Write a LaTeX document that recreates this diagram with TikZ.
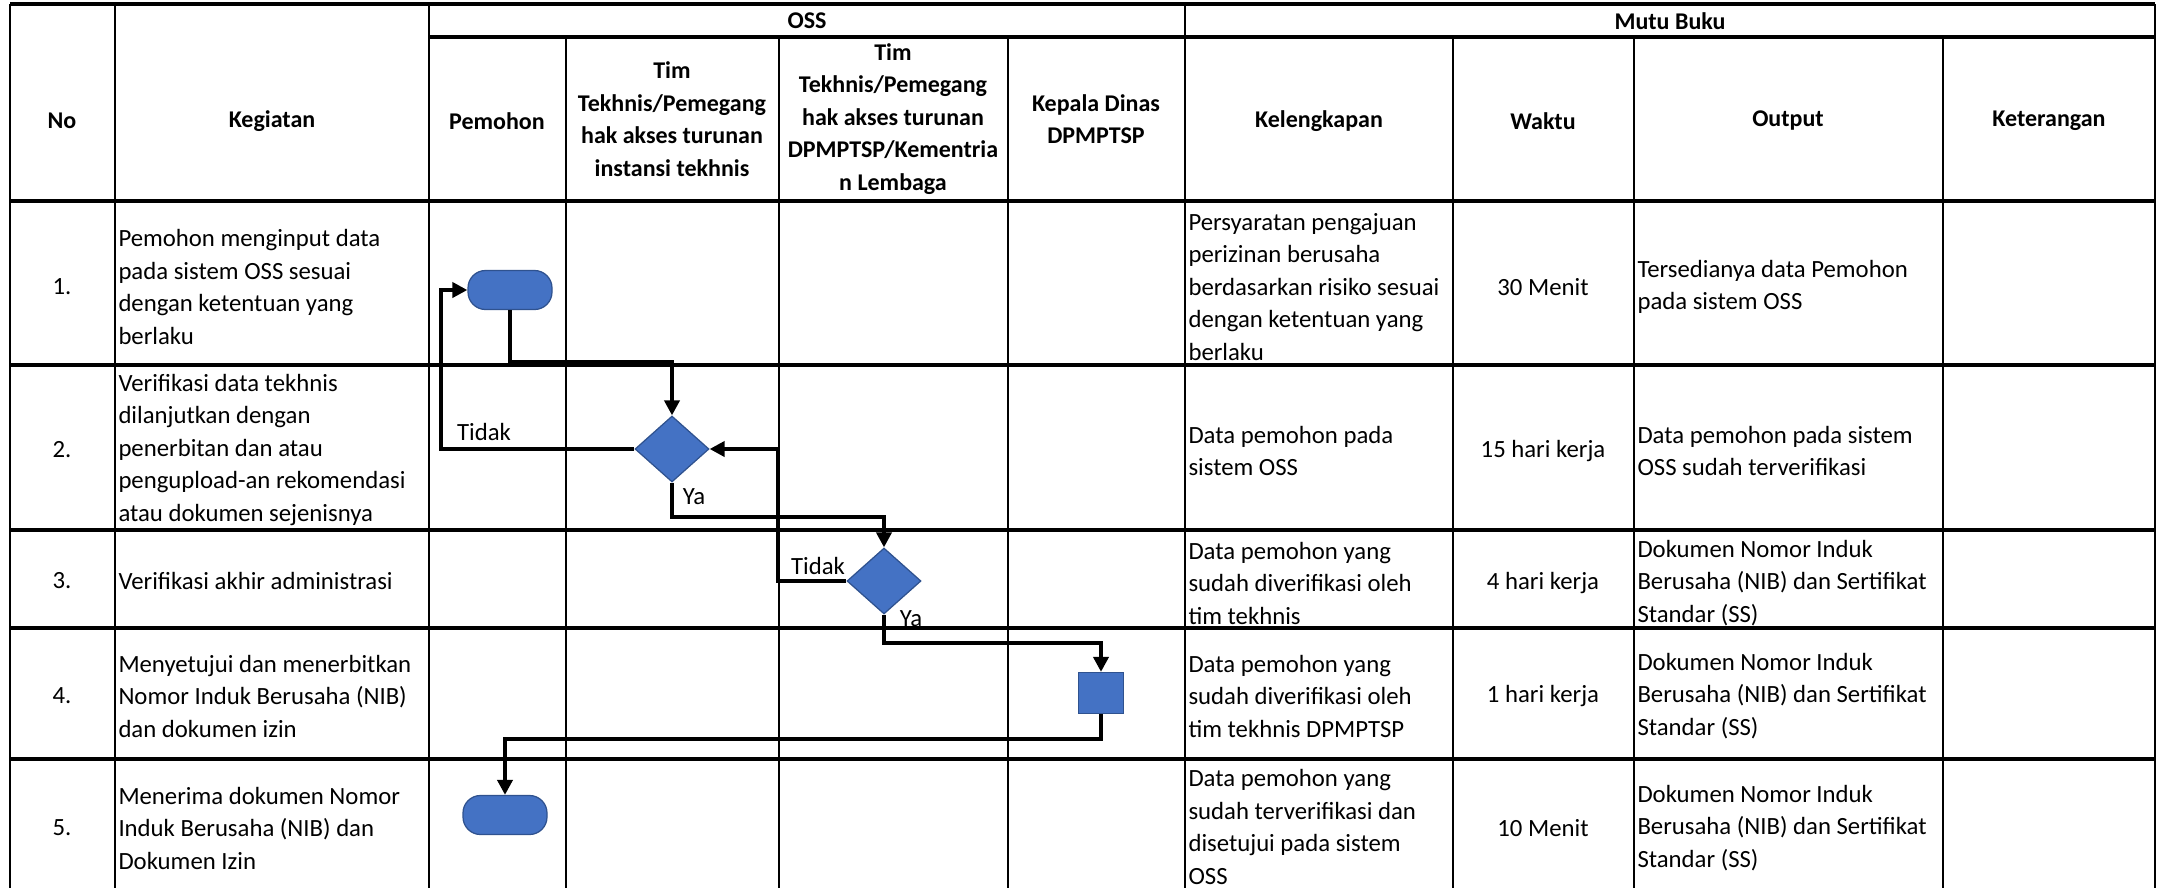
\documentclass[tikz,border=0pt]{standalone}
\usepackage{fontspec}
\setmainfont{Carlito}
\usetikzlibrary{shapes.geometric, arrows.meta}

\definecolor{FlowBlue}{HTML}{4472C4}
\definecolor{FlowEdge}{HTML}{2F528F}

\begin{document}
\begin{tikzpicture}[x=0.4pt, y=-0.4pt,
  every node/.style={font=\fontsize{9.9}{13}\selectfont, inner sep=0pt},
  head/.style={font=\bfseries\fontsize{9.6}{13}\selectfont, align=center},
  cell/.style={align=left, anchor=west},
  mid/.style={align=center},
  hline/.style={line width=1.3pt},
  vline/.style={line width=1.05pt},
  terminal/.style={rectangle, draw=FlowEdge, fill=FlowBlue, line width=0.5pt, rounded corners=7pt, minimum width=33.6pt, minimum height=15.6pt},
  decision/.style={diamond, draw=FlowEdge, fill=FlowBlue, line width=0.5pt, minimum width=29.6pt, minimum height=26.4pt},
  process/.style={rectangle, draw=FlowEdge, fill=FlowBlue, line width=0.5pt, minimum width=18pt, minimum height=16.4pt},
  flow/.style={line width=1.8pt, -{Triangle[length=6pt, width=6pt]}}]

 \useasboundingbox (0,0) rectangle (2161,888);

 %%%%%%%%%% Table lines %%%%%%%%%%
 \draw [hline] (10,4) -- (2155,4) ;
 \draw [hline] (429,37) -- (2155,37) ;
 \draw [hline] (10,201) -- (2155,201) ;
 \draw [hline] (10,365) -- (2155,365) ;
 \draw [hline] (10,530) -- (2155,530) ;
 \draw [hline] (10,628) -- (2155,628) ;
 \draw [hline] (10,759) -- (2155,759) ;

 \draw [vline] (10,4) -- (10,888) ;
 \draw [vline] (115,4) -- (115,888) ;
 \draw [vline] (429,4) -- (429,888) ;
 \draw [vline] (566,37) -- (566,888) ;
 \draw [vline] (779,37) -- (779,888) ;
 \draw [vline] (1008,37) -- (1008,888) ;
 \draw [vline] (1185,4) -- (1185,888) ;
 \draw [vline] (1453,37) -- (1453,888) ;
 \draw [vline] (1634,37) -- (1634,888) ;
 \draw [vline] (1943,37) -- (1943,888) ;
 \draw [vline] (2155,4) -- (2155,888) ;

 %%%%%%%%%% Header %%%%%%%%%%
 \node [head] (oss) at (807,21) {OSS};
 \node [head] (mutu) at (1670,21) {Mutu Buku};
 \node [head] (hno) at (62,121) {No};
 \node [head] (hkeg) at (272,121) {Kegiatan};
 \node [head] (hpem) at (497,121) {Pemohon};
 \node [head] (htim1) at (672,119) {Tim\\Tekhnis/Pemegang\\hak akses turunan\\instansi tekhnis};
 \node [head] (htim2) at (893,119) {Tim\\Tekhnis/Pemegang\\hak akses turunan\\DPMPTSP/Kementria\\n Lembaga};
 \node [head] (hkep) at (1096,119) {Kepala Dinas\\DPMPTSP};
 \node [head] (hkel) at (1319,121) {Kelengkapan};
 \node [head] (hwak) at (1543,121) {Waktu};
 \node [head] (hout) at (1788,121) {Output};
 \node [head] (hket) at (2049,121) {Keterangan};

 %%%%%%%%%% Row 1 %%%%%%%%%%
 \node [mid] (no1) at (62,287) {1.};
 \node [cell] (keg1) at (118,287) {Pemohon menginput data\\pada sistem OSS sesuai\\dengan ketentuan yang\\berlaku};
 \node [cell] (kel1) at (1188,287) {Persyaratan pengajuan\\perizinan berusaha\\berdasarkan risiko sesuai\\dengan ketentuan yang\\berlaku};
 \node [mid] (wak1) at (1543,287) {30 Menit};
 \node [cell] (out1) at (1637,287) {Tersedianya data Pemohon\\pada sistem OSS};

 %%%%%%%%%% Row 2 %%%%%%%%%%
 \node [mid] (no2) at (62,450) {2.};
 \node [cell] (keg2) at (118,450) {Verifikasi data tekhnis\\dilanjutkan dengan\\penerbitan dan atau\\pengupload-an rekomendasi\\atau dokumen sejenisnya};
 \node [cell] (kel2) at (1188,451) {Data pemohon pada\\sistem OSS};
 \node [mid] (wak2) at (1543,451) {15 hari kerja};
 \node [cell] (out2) at (1637,451) {Data pemohon pada sistem\\OSS sudah terverifikasi};

 %%%%%%%%%% Row 3 %%%%%%%%%%
 \node [mid] (no3) at (62,581) {3.};
 \node [cell] (keg3) at (118,581) {Verifikasi akhir administrasi};
 \node [cell] (kel3) at (1188,583) {Data pemohon yang\\sudah diverifikasi oleh\\tim tekhnis};
 \node [mid] (wak3) at (1543,583) {4 hari kerja};
 \node [cell] (out3) at (1637,583) {Dokumen Nomor Induk\\Berusaha (NIB) dan Sertifikat\\Standar (SS)};

 %%%%%%%%%% Row 4 %%%%%%%%%%
 \node [mid] (no4) at (62,696) {4.};
 \node [cell] (keg4) at (118,696) {Menyetujui dan menerbitkan\\Nomor Induk Berusaha (NIB)\\dan dokumen izin};
 \node [cell] (kel4) at (1188,696) {Data pemohon yang\\sudah diverifikasi oleh\\tim tekhnis DPMPTSP};
 \node [mid] (wak4) at (1543,696) {1 hari kerja};
 \node [cell] (out4) at (1637,696) {Dokumen Nomor Induk\\Berusaha (NIB) dan Sertifikat\\Standar (SS)};

 %%%%%%%%%% Row 5 %%%%%%%%%%
 \node [mid] (no5) at (62,828) {5.};
 \node [cell] (keg5) at (118,828) {Menerima dokumen Nomor\\Induk Berusaha (NIB) dan\\Dokumen Izin};
 \node [cell] (kel5) at (1188,827) {Data pemohon yang\\sudah terverifikasi dan\\disetujui pada sistem\\OSS};
 \node [mid] (wak5) at (1543,828) {10 Menit};
 \node [cell] (out5) at (1637,828) {Dokumen Nomor Induk\\Berusaha (NIB) dan Sertifikat\\Standar (SS)};

 %%%%%%%%%% Flow shapes %%%%%%%%%%
 \node [terminal] (start) at (510,290) {};
 \node [decision] (cek1) at (672,449) {};
 \node [decision] (cek2) at (884,581) {};
 \node [process] (sah) at (1101,693) {};
 \node [terminal] (stop) at (505,815) {};

 %%%%%%%%%% Bends %%%%%%%%%%
 \coordinate (b1) at (672,362);
 \coordinate (b2) at (441,449);
 \coordinate (b3) at (884,517);
 \coordinate (b4) at (778,581);
 \coordinate (b5) at (1101,643);
 \coordinate (b6) at (505,739);

 %%%%%%%%%% Flow lines %%%%%%%%%%
 \draw [flow] (start.south) |- (b1) -- (cek1.north) ;
 \draw [flow] (cek1.west) -- (b2) |- (start.west) ;
 \draw [flow] (cek1.south) |- (b3) -- (cek2.north) ;
 \draw [flow] (cek2.west) -- (b4) |- (cek1.east) ;
 \draw [flow] (cek2.south) |- (b5) -- (sah.north) ;
 \draw [flow] (sah.south) |- (b6) -- (stop.north) ;

 %%%%%%%%%% Labels %%%%%%%%%%
 \node (tidak1) at (484,432) {Tidak};
 \node (ya1) at (694,497) {Ya};
 \node (tidak2) at (818,566) {Tidak};
 \node (ya2) at (911,619) {Ya};

\end{tikzpicture}
\end{document}
